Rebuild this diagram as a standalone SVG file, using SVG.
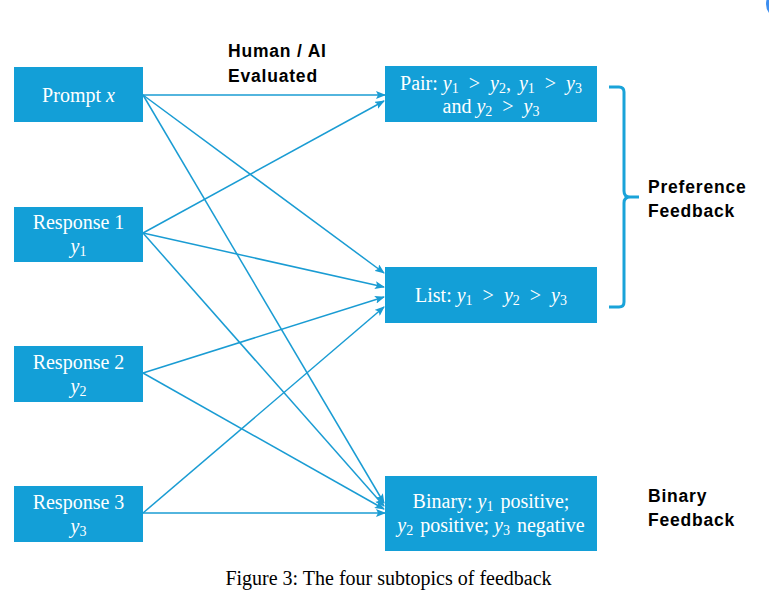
<svg xmlns="http://www.w3.org/2000/svg" width="769" height="600" viewBox="0 0 769 600">
<defs>
<style>
.box{fill:#139fd7;}
.bt{font-family:"Liberation Serif","Times New Roman",serif;font-size:20px;fill:#ffffff;text-anchor:middle;}
.m{font-style:italic;}
.sub{font-size:14px;}
.lab{font-family:"Liberation Sans",Arial,sans-serif;font-weight:bold;font-size:17.5px;letter-spacing:0.8px;fill:#000000;}
.cap{font-family:"Liberation Serif","Times New Roman",serif;font-size:20px;fill:#000000;text-anchor:middle;}
.edge{stroke:#1a9cd3;stroke-width:1.5;fill:none;marker-end:url(#ah);}
</style>
<marker id="ah" markerWidth="10" markerHeight="8" refX="9" refY="4" orient="auto" markerUnits="userSpaceOnUse">
<path d="M0,0 L10,4 L0,8 L2,4 Z" fill="#1a9cd3"/>
</marker>
</defs>
<rect width="769" height="600" fill="#ffffff"/>
<circle cx="781" cy="4" r="15" fill="#3d8ef0"/>

<g id="connectors">
<line class="edge" x1="143" y1="95" x2="385" y2="95"/>
<line class="edge" x1="143" y1="233" x2="384" y2="101"/>
<line class="edge" x1="143" y1="95" x2="384" y2="273"/>
<line class="edge" x1="143" y1="233" x2="384" y2="287"/>
<line class="edge" x1="143" y1="373" x2="384" y2="297"/>
<line class="edge" x1="143" y1="513" x2="384" y2="307"/>
<line class="edge" x1="143" y1="95" x2="384" y2="503"/>
<line class="edge" x1="143" y1="233" x2="384" y2="506"/>
<line class="edge" x1="143" y1="373" x2="384" y2="509"/>
<line class="edge" x1="143" y1="513" x2="385" y2="513"/>
</g>

<g id="prompt">
<rect class="box" x="14" y="67" width="129" height="55"/>
<text class="bt" x="78.5" y="102">Prompt <tspan class="m">x</tspan></text>
</g>
<g id="response1">
<rect class="box" x="14" y="207" width="129" height="55"/>
<text class="bt" x="78.5" y="229">Response 1</text>
<text class="bt" x="78.5" y="253"><tspan class="m">y</tspan><tspan class="sub" dy="3">1</tspan></text>
</g>
<g id="response2">
<rect class="box" x="14" y="346" width="129" height="56"/>
<text class="bt" x="78.5" y="369">Response 2</text>
<text class="bt" x="78.5" y="393"><tspan class="m">y</tspan><tspan class="sub" dy="3">2</tspan></text>
</g>
<g id="response3">
<rect class="box" x="14" y="486" width="129" height="56"/>
<text class="bt" x="78.5" y="509">Response 3</text>
<text class="bt" x="78.5" y="533"><tspan class="m">y</tspan><tspan class="sub" dy="3">3</tspan></text>
</g>

<g id="pair">
<rect class="box" x="385" y="66" width="212" height="56"/>
<text class="bt" x="491" y="90">Pair: <tspan class="m">y</tspan><tspan class="sub" dy="3">1</tspan><tspan dx="5" dy="-3"> &gt; </tspan><tspan class="m" dx="5">y</tspan><tspan class="sub" dy="3">2</tspan><tspan dy="-3">, </tspan><tspan class="m" dx="3">y</tspan><tspan class="sub" dy="3">1</tspan><tspan dx="5" dy="-3"> &gt; </tspan><tspan class="m" dx="5">y</tspan><tspan class="sub" dy="3">3</tspan></text>
<text class="bt" x="491" y="113">and <tspan class="m">y</tspan><tspan class="sub" dy="3">2</tspan><tspan dx="5" dy="-3"> &gt; </tspan><tspan class="m" dx="5">y</tspan><tspan class="sub" dy="3">3</tspan></text>
</g>
<g id="list">
<rect class="box" x="385" y="267" width="212" height="56"/>
<text class="bt" x="491" y="302">List: <tspan class="m">y</tspan><tspan class="sub" dy="3">1</tspan><tspan dx="5" dy="-3"> &gt; </tspan><tspan class="m" dx="5">y</tspan><tspan class="sub" dy="3">2</tspan><tspan dx="5" dy="-3"> &gt; </tspan><tspan class="m" dx="5">y</tspan><tspan class="sub" dy="3">3</tspan></text>
</g>
<g id="binary">
<rect class="box" x="385" y="476" width="212" height="75"/>
<text class="bt" x="491" y="508">Binary: <tspan class="m">y</tspan><tspan class="sub" dy="3">1</tspan><tspan dx="2" dy="-3"> positive;</tspan></text>
<text class="bt" x="491" y="532"><tspan class="m">y</tspan><tspan class="sub" dy="3">2</tspan><tspan dx="2" dy="-3"> positive; </tspan><tspan class="m">y</tspan><tspan class="sub" dy="3">3</tspan><tspan dx="2" dy="-3"> negative</tspan></text>
</g>

<g id="evaluated-label">
<text class="lab" x="228" y="57">Human / AI</text>
<text class="lab" x="228" y="82">Evaluated</text>
</g>

<g id="preference-brace">
<path d="M609,87 L619,87 Q624,87 624,92 L624,191 Q624,197 630,197 L639,197 M630,197 Q624,197 624,203 L624,302 Q624,307 619,307 L609,307" fill="none" stroke="#1aa3d9" stroke-width="3"/>
<text class="lab" x="648" y="193">Preference</text>
<text class="lab" x="648" y="217">Feedback</text>
</g>

<g id="binary-label">
<text class="lab" x="648" y="502">Binary</text>
<text class="lab" x="648" y="526">Feedback</text>
</g>

<text class="cap" x="388.5" y="585">Figure 3: The four subtopics of feedback</text>
</svg>
